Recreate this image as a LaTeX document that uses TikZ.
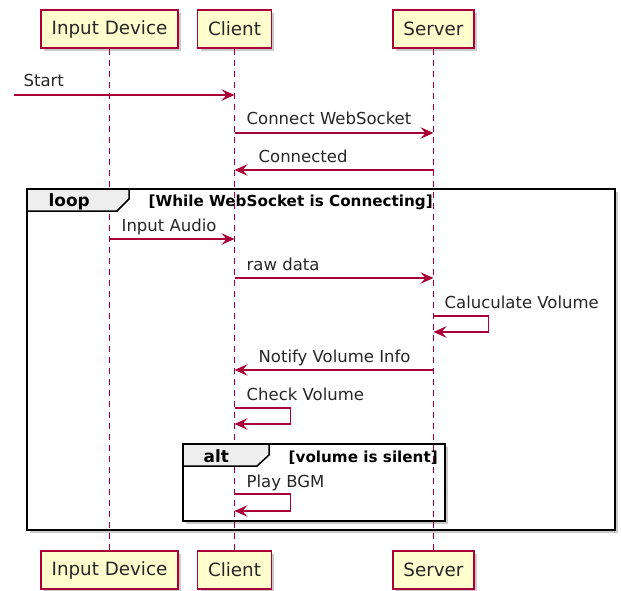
\documentclass[tikz,border=0pt]{standalone}
\usepackage{fontspec}
\setmainfont{DejaVu Sans}
\usetikzlibrary{arrows.meta, shadows}
\definecolor{umlred}{HTML}{A80036}
\definecolor{umlfill}{HTML}{FEFECE}
\definecolor{tabgray}{HTML}{EEEEEE}

\begin{document}
\begin{tikzpicture}[x=1pt,y=-1pt,>={Stealth[length=13pt,width=11.5pt,inset=5pt]},line width=1.3pt]
\tikzset{actor/.style = {draw=umlred, fill=umlfill, line width=1.3pt, minimum height=38pt, inner xsep=10.5pt, text=black!85, font=\fontsize{18.3}{20}\selectfont, drop shadow={shadow xshift=3pt, shadow yshift=-3pt, fill=black!35, opacity=.6}}}
\tikzset{lifeline/.style = {draw=umlred, line width=1pt, dash pattern=on 6pt off 5pt}}
\tikzset{msg/.style = {draw=umlred, ->}}
\tikzset{lbl/.style = {anchor=base west, inner sep=0pt, text=black!85, font=\fontsize{16.5}{18}\selectfont}}
\tikzset{frame/.style = {draw=black, fill=white, line width=2.8pt, drop shadow={shadow xshift=3pt, shadow yshift=-3pt, fill=black!35, opacity=.6}}}
\tikzset{tab/.style = {draw=black, fill=tabgray, line width=1.5pt}}
\tikzset{kind/.style = {anchor=base west, inner sep=0pt, font=\fontsize{16.9}{18}\selectfont\bfseries}}
\tikzset{guard/.style = {anchor=base west, inner sep=0pt, font=\fontsize{15.2}{17}\selectfont\bfseries}}

\useasboundingbox (0,0) rectangle (621,591);

%frames
\draw[frame] (27,189) rectangle (615,530);
\draw[frame] (183,444) rectangle (445,521);

%participants
\node[actor] (inTop) at (109.5,29) {Input Device};
\node[actor] (clientTop) at (234.5,29) {Client};
\node[actor] (serverTop) at (433.5,29) {Server};
\node[actor] (inBot) at (109.5,570) {Input Device};
\node[actor] (clientBot) at (234.5,570) {Client};
\node[actor] (serverBot) at (433.5,570) {Server};

%lifelines
\draw[lifeline] (inTop) -- (inBot);
\draw[lifeline] (clientTop) -- (clientBot);
\draw[lifeline] (serverTop) -- (serverBot);

%frame tabs
\draw[tab] (27,189) -- (129,189) -- (129,199) -- (117,211) -- (27,211) -- cycle;
\node[kind] (loopKind) at (48,206) {loop};
\node[guard] (loopGuard) at (148,206) {[While WebSocket is Connecting]};
\draw[tab] (183,444) -- (269,444) -- (269,455) -- (257,466) -- (183,466) -- cycle;
\node[kind] (altKind) at (203,462) {alt};
\node[guard] (altGuard) at (288,462) {[volume is silent]};

%messages
\coordinate (start) at (14,95);
\draw[msg] (start) -- (clientTop |- start);
\node[lbl] (mStart) at (23,87) {Start};

\draw[msg] (clientTop |- 0,133) -- (serverTop |- 0,133);
\node[lbl] (mConnect) at (246,125) {Connect WebSocket};

\draw[msg] (serverTop |- 0,170) -- (clientTop |- 0,170);
\node[lbl] (mConnected) at (258,162) {Connected};

\draw[msg] (inTop |- 0,239) -- (clientTop |- 0,239);
\node[lbl] (mAudio) at (121,231) {Input Audio};

\draw[msg] (clientTop |- 0,278) -- (serverTop |- 0,278);
\node[lbl] (mRaw) at (246,270) {raw data};

\draw[msg] (serverTop |- 0,316) -- ++(55,0) -- ++(0,16) -- (serverTop |- 0,332);
\node[lbl] (mCalc) at (444,308) {Caluculate Volume};

\draw[msg] (serverTop |- 0,370) -- (clientTop |- 0,370);
\node[lbl] (mNotify) at (258,362) {Notify Volume Info};

\draw[msg] (clientTop |- 0,408) -- ++(56,0) -- ++(0,16) -- (clientTop |- 0,424);
\node[lbl] (mCheck) at (246,400) {Check Volume};

\draw[msg] (clientTop |- 0,494) -- ++(56,0) -- ++(0,17) -- (clientTop |- 0,511);
\node[lbl] (mPlay) at (246,487) {Play BGM};

\end{tikzpicture}
\end{document}
